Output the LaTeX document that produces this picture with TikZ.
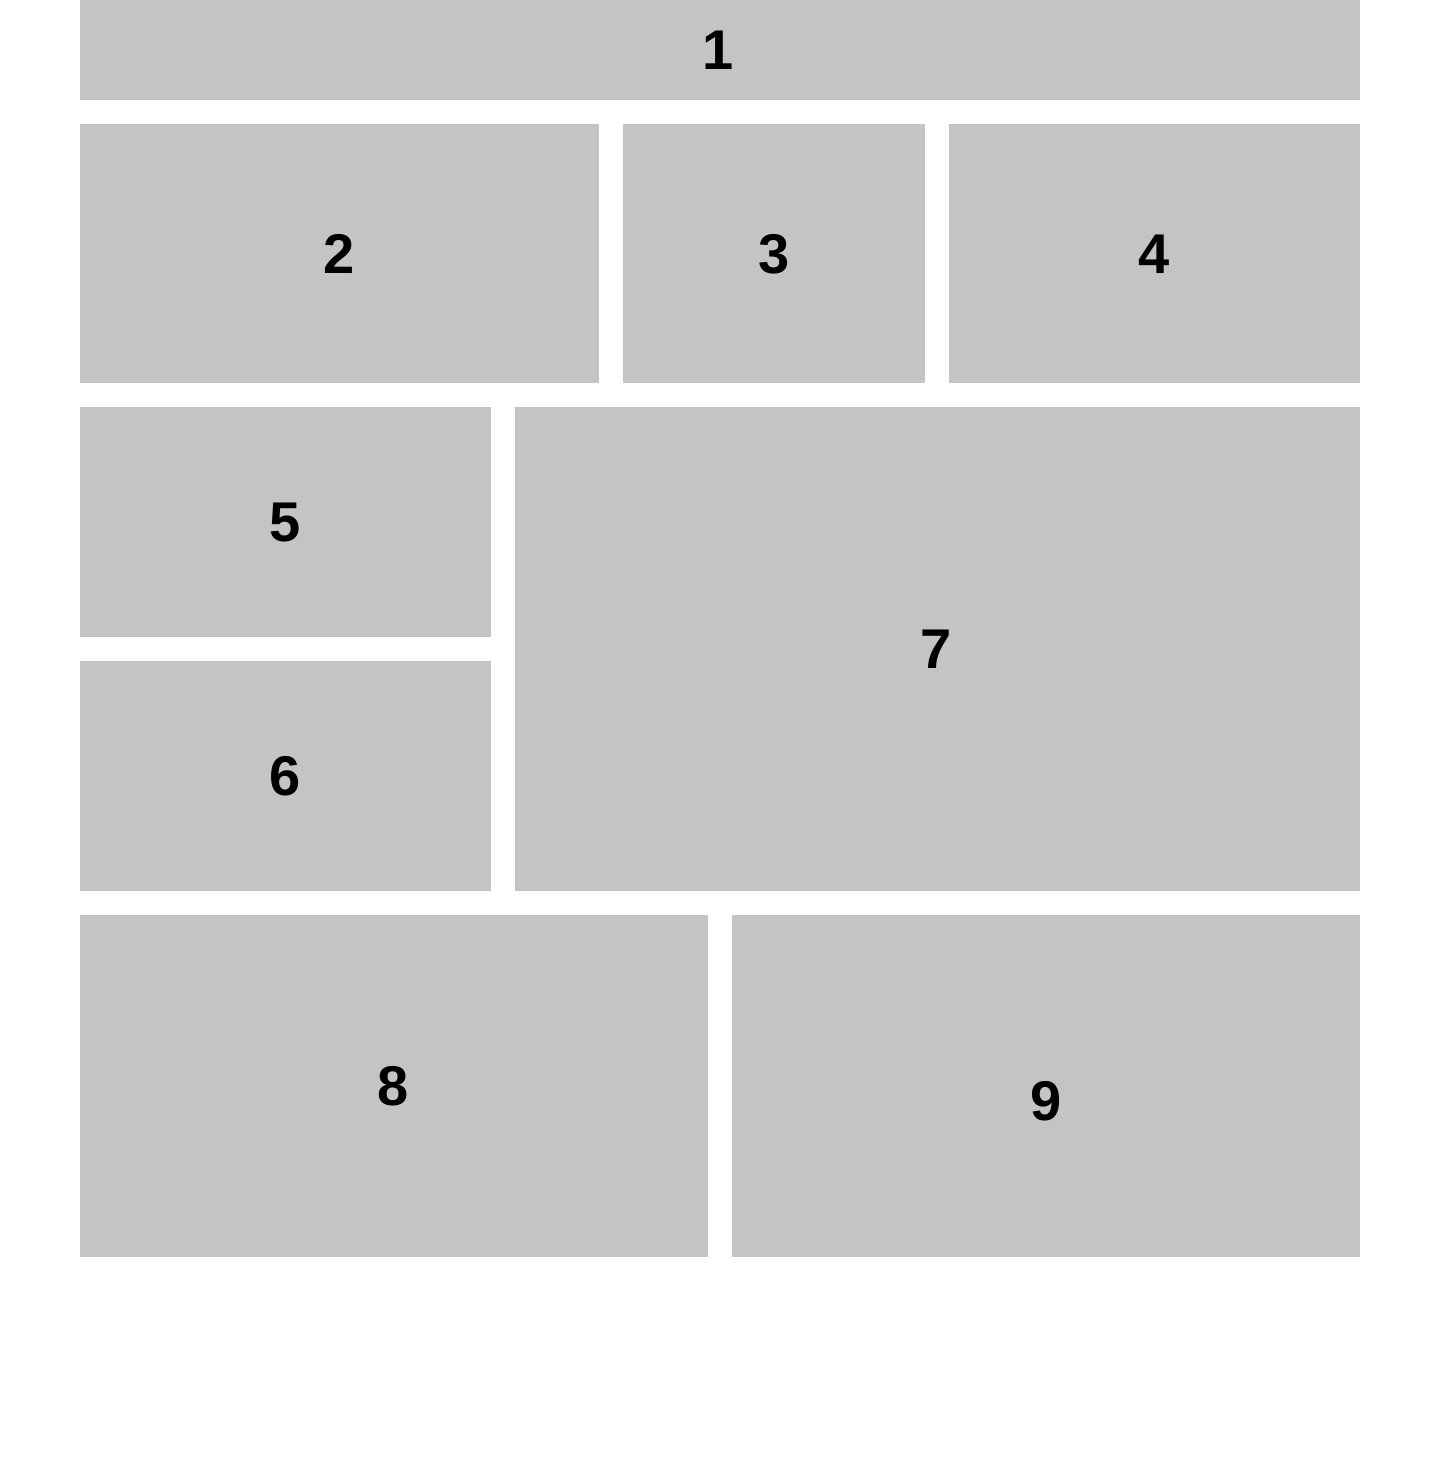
\documentclass[tikz,border=0pt]{standalone}
\usepackage{fontspec}
\setmainfont{Liberation Sans}
\definecolor{boxgray}{HTML}{C4C4C4}
\tikzset{
  panel/.style={fill=boxgray, draw=none, inner sep=0pt, outer sep=0pt},
  num/.style={font=\fontsize{56}{60}\selectfont\bfseries, text=black, inner sep=0pt, anchor=base}
}
\newcommand{\panelbox}[5]{% name, x1, y1, x2, y2
  \path[panel] (#2,#3) rectangle (#4,#5) coordinate (#1-se);
  \coordinate (#1-nw) at (#2,#3);
}
\begin{document}
\begin{tikzpicture}[x=1pt,y=-1pt]
\useasboundingbox (0,0) rectangle (1440,1463);
\fill[white] (0,0) rectangle (1440,1463);
\panelbox{p1}{80}{0}{1360}{100}
\panelbox{p2}{80}{124}{599}{383}
\panelbox{p3}{623}{124}{925}{383}
\panelbox{p4}{949}{124}{1360}{383}
\panelbox{p5}{80}{407}{491}{637}
\panelbox{p6}{80}{661}{491}{891}
\panelbox{p7}{515}{407}{1360}{891}
\panelbox{p8}{80}{915}{708}{1257}
\panelbox{p9}{732}{915}{1360}{1257}
\node[num] (t1) at (718,70) {1};
\node[num] (t2) at (339,273) {2};
\node[num] (t3) at (774,273) {3};
\node[num] (t4) at (1154,273) {4};
\node[num] (t5) at (285,541) {5};
\node[num] (t6) at (285,795) {6};
\node[num] (t7) at (936,668) {7};
\node[num] (t8) at (393,1105) {8};
\node[num] (t9) at (1046,1120) {9};
\end{tikzpicture}
\end{document}
